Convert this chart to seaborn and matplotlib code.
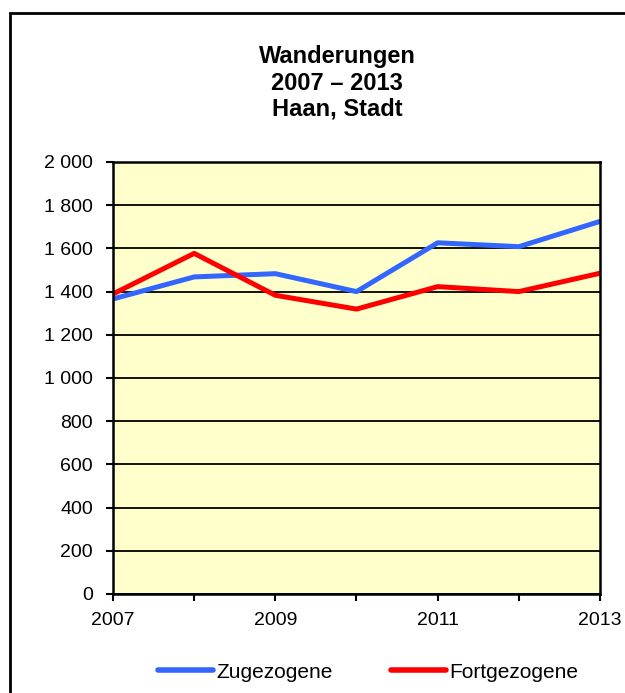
import pandas as pd
import seaborn as sns
import matplotlib.pyplot as plt
from matplotlib.patches import Rectangle
from matplotlib.ticker import FuncFormatter, MultipleLocator

years = [2007, 2008, 2009, 2010, 2011, 2012, 2013]
zugezogene = [1366, 1468, 1483, 1400, 1626, 1608, 1725]
fortgezogene = [1389, 1577, 1383, 1319, 1423, 1400, 1485]
series_names = ["Zugezogene", "Fortgezogene"]
colors = ["#3366FF", "#FF0000"]

df = pd.DataFrame({
    "Jahr": years * 2,
    "Anzahl": zugezogene + fortgezogene,
    "Art": [series_names[0]] * len(years) + [series_names[1]] * len(years),
})

sns.set_style("white")
plt.rcParams["font.family"] = ["Liberation Sans", "DejaVu Sans"]
plt.rcParams["text.color"] = "black"

fig = plt.figure(figsize=(6.25, 6.93), dpi=100)
ax = fig.add_axes([113 / 625, 1 - 594 / 693, 487 / 625, 432 / 693])
ax.set_facecolor("#FFFFCC")

# outer chart frame (right/bottom edge lie outside the image)
fig.patches.append(Rectangle((10 / 625, -0.1), 1.2, 1 - 13 / 693 + 0.1,
                             transform=fig.transFigure, fill=False,
                             edgecolor="black", linewidth=2, clip_on=False))

sns.lineplot(data=df, x="Jahr", y="Anzahl", hue="Art", palette=colors,
             linewidth=3.6, ax=ax, legend=True)

ax.set_xlim(2007, 2013)
ax.set_ylim(0, 2000)
ax.yaxis.set_major_locator(MultipleLocator(200))
ax.yaxis.set_major_formatter(FuncFormatter(lambda v, p: f"{int(v):,}".replace(",", " ")))
ax.set_xticks([2007, 2009, 2011, 2013])
ax.set_xticks(years, minor=True)
ax.grid(axis="y", color="black", linewidth=1.3)
ax.set_axisbelow(True)
for s in ax.spines.values():
    s.set_color("black")
    s.set_linewidth(1.8)
ax.tick_params(axis="both", which="both", direction="out", length=5, width=1.5,
               color="black", labelsize=14, labelcolor="black",
               bottom=True, left=True)
ax.tick_params(axis="x", pad=8)
ax.tick_params(axis="y", pad=9.5)
ax.set_xlabel("")
ax.set_ylabel("")

fig.text(337 / 625, 1 - 83 / 693, "Wanderungen\n2007 – 2013\nHaan, Stadt",
         ha="center", va="center", fontsize=17, fontweight="bold",
         linespacing=1.17, color="black")

handles, labels = ax.get_legend_handles_labels()
ax.legend_.remove()
for h in handles:
    h.set_linewidth(4)
fig.legend(handles, labels, loc="center", bbox_to_anchor=(368 / 625, 1 - 672 / 693),
           ncol=2, frameon=False, fontsize=15, handlelength=2.65,
           handletextpad=0.15, columnspacing=2.8, labelcolor="black")

fig.savefig("out.png", dpi=100)
